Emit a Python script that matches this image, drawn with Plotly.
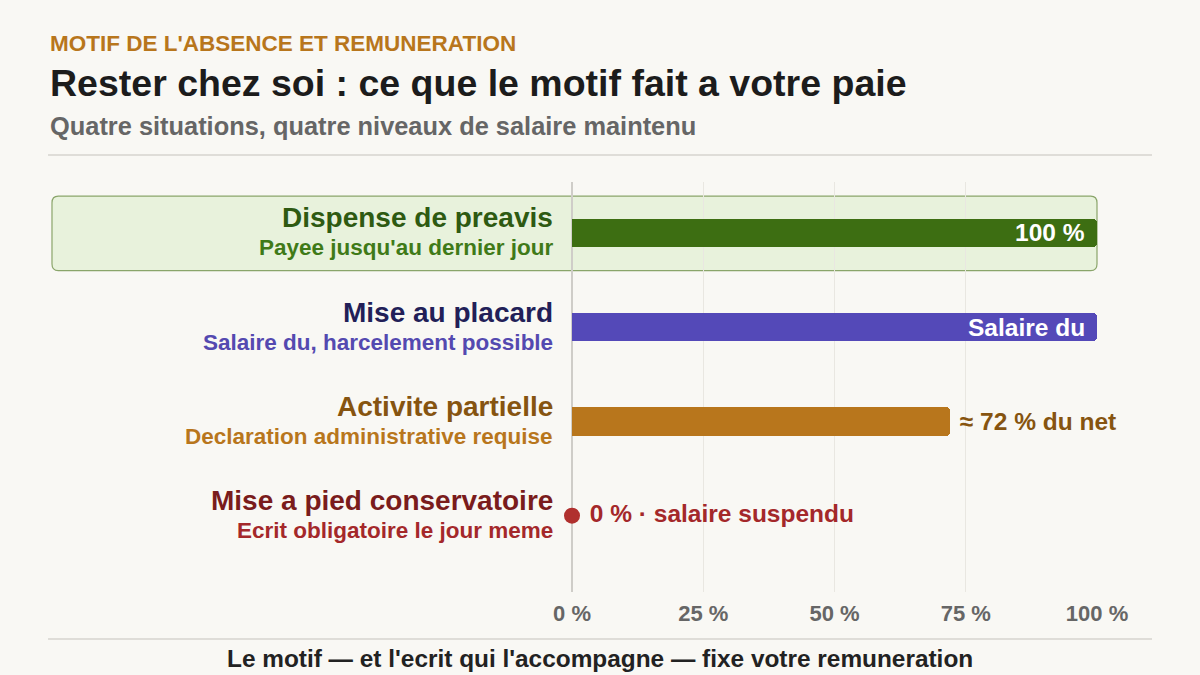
import plotly.graph_objs as go

# Rows, top to bottom
CATEGORIES = ["Dispense de preavis", "Mise au placard", "Activite partielle", "Mise a pied conservatoire"]
SUBTITLES = ["Payee jusqu'au dernier jour", "Salaire du, harcelement possible",
             "Declaration administrative requise", "Ecrit obligatoire le jour meme"]
PCT_MAINTAINED = [100, 100, 72, 0]
VALUE_LABELS = ["100 %", "Salaire du", "≈ 72 % du net", "0 % · salaire suspendu"]
X_TICKS = [0, 25, 50, 75, 100]
X_TICK_LABELS = ["0 %", "25 %", "50 %", "75 %", "100 %"]

BAR_COLORS = ["#3d6e12", "#5449b8", "#b8761c", "#b0302e"]
TITLE_COLORS = ["#2e5a12", "#221f58", "#865410", "#7a1c1c"]
SUB_COLORS = ["#3f7a18", "#5449b0", "#b8761c", "#a4282a"]
LABEL_COLORS = ["white", "white", "#865410", "#a4282a"]

FONT = "Liberation Sans, Arial, sans-serif"
BG = "#f9f8f4"

rows = list(range(len(CATEGORIES)))

fig = go.Figure()

# bars (the last row is a 0 value, shown as a dot instead)
fig.add_trace(go.Bar(
    x=PCT_MAINTAINED[:3], y=rows[:3], orientation="h", width=0.3,
    marker=dict(color=BAR_COLORS[:3], cornerradius=4, line=dict(width=0)),
    text=["", "", " " + VALUE_LABELS[2]],
    textposition="outside",
    textfont=dict(family=FONT, size=24.5, color=LABEL_COLORS[2], weight="bold"),
    cliponaxis=False, hoverinfo="skip", showlegend=False,
))
fig.add_trace(go.Scatter(
    x=PCT_MAINTAINED[3:], y=rows[3:], mode="markers+text",
    marker=dict(color=BAR_COLORS[3], size=16),
    text=[" " + VALUE_LABELS[3]], textposition="middle right",
    textfont=dict(family=FONT, size=24.5, color=LABEL_COLORS[3], weight="bold"),
    cliponaxis=False, hoverinfo="skip", showlegend=False,
))

# labels written inside the two full bars
for i in rows[:2]:
    fig.add_annotation(x=PCT_MAINTAINED[i], y=i, xref="x", yref="y", xanchor="right", yanchor="middle",
                       xshift=-10, text=VALUE_LABELS[i], showarrow=False,
                       font=dict(family=FONT, size=24.5, color=LABEL_COLORS[i], weight="bold"))

fig.update_layout(
    width=1200, height=675,
    margin=dict(l=572, r=103, t=182, b=83),
    paper_bgcolor=BG, plot_bgcolor=BG,
    font=dict(family=FONT),
    xaxis=dict(range=[0, 100], tickvals=X_TICKS, ticktext=X_TICK_LABELS,
               showgrid=True, gridcolor="#e9e7e1", gridwidth=1,
               zeroline=True, zerolinecolor="#cfcdc8", zerolinewidth=1.5,
               showline=False, ticks="", ticklabelstandoff=6,
               tickfont=dict(family=FONT, size=22, color="#666666", weight="bold")),
    yaxis=dict(range=[3.81, -0.54], showgrid=False, zeroline=False, showticklabels=False,
               showline=False),
    bargap=0,
)

# left labels
for i in rows:
    fig.add_annotation(x=-0.033, xref="paper", y=i, yref="y", yshift=15,
                       text=CATEGORIES[i], showarrow=False, xanchor="right", yanchor="middle",
                       font=dict(family=FONT, size=28, color=TITLE_COLORS[i], weight="bold"))
    fig.add_annotation(x=-0.033, xref="paper", y=i, yref="y", yshift=-15,
                       text=SUBTITLES[i], showarrow=False, xanchor="right", yanchor="middle",
                       font=dict(family=FONT, size=22.5, color=SUB_COLORS[i], weight="bold"))

# highlight box around the first row (rounded corners)
x0, x1, y0, y1 = -0.9905, 1.0, -0.39, 0.40
rx, ry = 0.012, 0.07
path = (f"M {x0+rx},{y0} L {x1-rx},{y0} Q {x1},{y0} {x1},{y0+ry} L {x1},{y1-ry} "
        f"Q {x1},{y1} {x1-rx},{y1} L {x0+rx},{y1} Q {x0},{y1} {x0},{y1-ry} "
        f"L {x0},{y0+ry} Q {x0},{y0} {x0+rx},{y0} Z")
fig.add_shape(type="path", path=path, xref="paper", yref="y", layer="below",
              fillcolor="#e8f2dc", line=dict(color="#8aa56a", width=1.2))

# header / footer rules
fig.add_shape(type="line", xref="paper", yref="paper", x0=-0.998, x1=1.1048, y0=1.0659, y1=1.0659,
              line=dict(color="#d6d4cf", width=1.5))
fig.add_shape(type="line", xref="paper", yref="paper", x0=-0.998, x1=1.1048, y0=-0.1146, y1=-0.1146,
              line=dict(color="#d6d4cf", width=1.5))

fig.add_annotation(x=-0.998, xref="paper", y=1.3366, yref="paper", xanchor="left", yanchor="middle",
                   text="MOTIF DE L'ABSENCE ET REMUNERATION", showarrow=False,
                   font=dict(family=FONT, size=22.5, color="#b8761c", weight="bold"))
fig.add_annotation(x=-0.998, xref="paper", y=1.2415, yref="paper", xanchor="left", yanchor="middle",
                   text="Rester chez soi : ce que le motif fait a votre paie", showarrow=False,
                   font=dict(family=FONT, size=37.5, color="#1c1c1c", weight="bold"))
fig.add_annotation(x=-0.998, xref="paper", y=1.1366, yref="paper", xanchor="left", yanchor="middle",
                   text="Quatre situations, quatre niveaux de salaire maintenu", showarrow=False,
                   font=dict(family=FONT, size=25.4, color="#666666", weight="bold"))
fig.add_annotation(x=0.0533, xref="paper", y=-0.161, yref="paper", xanchor="center", yanchor="middle",
                   text="Le motif — et l'ecrit qui l'accompagne — fixe votre remuneration", showarrow=False,
                   font=dict(family=FONT, size=24.4, color="#222222", weight="bold"))

fig.write_html("out.html", config={"displayModeBar": False},
               post_script="document.body.style.margin='0';document.body.style.background='#f9f8f4';")
